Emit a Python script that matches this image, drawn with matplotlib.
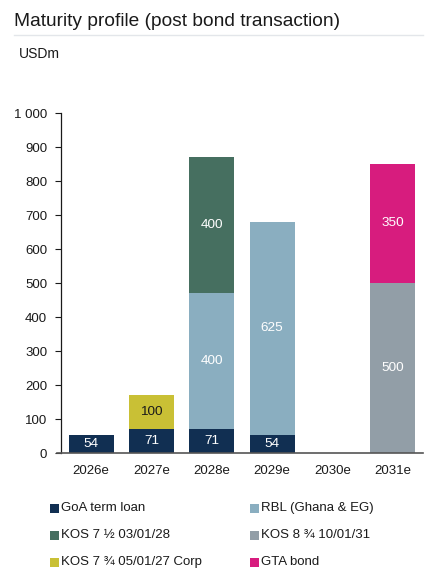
"""Maturity profile (post bond transaction) stacked bar chart."""

import matplotlib

matplotlib.use("Agg")

import matplotlib.pyplot as plt  # noqa: E402
from matplotlib.lines import Line2D  # noqa: E402
from matplotlib.patches import Rectangle  # noqa: E402
import numpy as np  # noqa: E402

plt.rcParams["font.family"] = ["Liberation Sans", "DejaVu Sans"]

YEARS = ["2026e", "2027e", "2028e", "2029e", "2030e", "2031e"]
SERIES = [
    "GoA term loan",
    "RBL (Ghana & EG)",
    "KOS 7 \u00bd 03/01/28",
    "KOS 8 \u00be 10/01/31",
    "KOS 7 \u00be 05/01/27 Corp",
    "GTA bond",
]
GOA_TERM_LOAN = [54, 71, 71, 54, 0, 0]
RBL = [0, 0, 400, 625, 0, 0]
KOS_2028 = [0, 0, 400, 0, 0, 0]
KOS_2031 = [0, 0, 0, 0, 0, 500]
KOS_2027 = [0, 100, 0, 0, 0, 0]
GTA_BOND = [0, 0, 0, 0, 0, 350]
VALUES = [GOA_TERM_LOAN, RBL, KOS_2028, KOS_2031, KOS_2027, GTA_BOND]

COLORS = ["#112f52", "#8aaec0", "#466f60", "#929ea7", "#c9c035", "#d71c7e"]
LABEL_COLORS = ["white", "white", "white", "white", "#1a1a1a", "white"]

W, H = 442, 578
fig = plt.figure(figsize=(W / 100, H / 100), dpi=100)
ax = fig.add_axes([61 / W, 1 - 453 / H, 362 / W, 340 / H])

x = np.arange(len(YEARS))
bottom = np.zeros(len(YEARS))
for values, color, label_color in zip(VALUES, COLORS, LABEL_COLORS):
    values = np.array(values, dtype=float)
    ax.bar(x, values, width=0.75, bottom=bottom, color=color, linewidth=0)
    for xi, v, b in zip(x, values, bottom):
        if v > 0:
            ax.text(xi, b + v / 2, f"{v:g}", ha="center", va="center",
                    color=label_color, fontsize=9.7)
    bottom += values

ax.set_xlim(-0.5, 5.5)
ax.set_ylim(0, 1000)
ax.set_yticks(range(0, 1001, 100))
ax.set_yticklabels(["0", "100", "200", "300", "400", "500", "600", "700",
                    "800", "900", "1 000"])
ax.set_xticks(x)
ax.set_xticklabels(YEARS)
ax.tick_params(axis="x", length=0, pad=9, labelsize=9.5, colors="#1a1a1a")
ax.tick_params(axis="y", length=4, width=0.8, pad=6, labelsize=9.5,
               colors="#1a1a1a", direction="out")
for side in ("top", "right"):
    ax.spines[side].set_visible(False)
ax.spines["left"].set_color("#1a1a1a")
ax.spines["left"].set_linewidth(0.9)
ax.spines["bottom"].set_visible(False)
fig.add_artist(Line2D([57 / W, 423 / W], [1 - 453 / H, 1 - 453 / H],
                      color="#555555", linewidth=1.2))

fig.text(14 / W, 1 - 21 / H, "Maturity profile (post bond transaction)",
         fontsize=13.8, va="center", ha="left", color="#1a1a1a")
fig.add_artist(Line2D([14 / W, 423 / W], [1 - 35 / H, 1 - 35 / H],
                      color="#e3e6ea", linewidth=1))
fig.text(19 / W, 1 - 54 / H, "USDm", fontsize=10, va="center", ha="left",
         color="#1a1a1a")

col_x = [50, 250]
row_y = [508, 535, 562]
for i, (name, color) in enumerate(zip(SERIES, COLORS)):
    px = col_x[i % 2]
    py = row_y[i // 2]
    fig.add_artist(Rectangle((px / W, 1 - (py + 4.5) / H), 9 / W, 9 / H,
                             color=color, linewidth=0))
    fig.text((px + 11) / W, 1 - py / H, name, fontsize=9.5, va="center",
             ha="left", color="#1a1a1a")

fig.savefig("out.png", dpi=100, facecolor="white")
